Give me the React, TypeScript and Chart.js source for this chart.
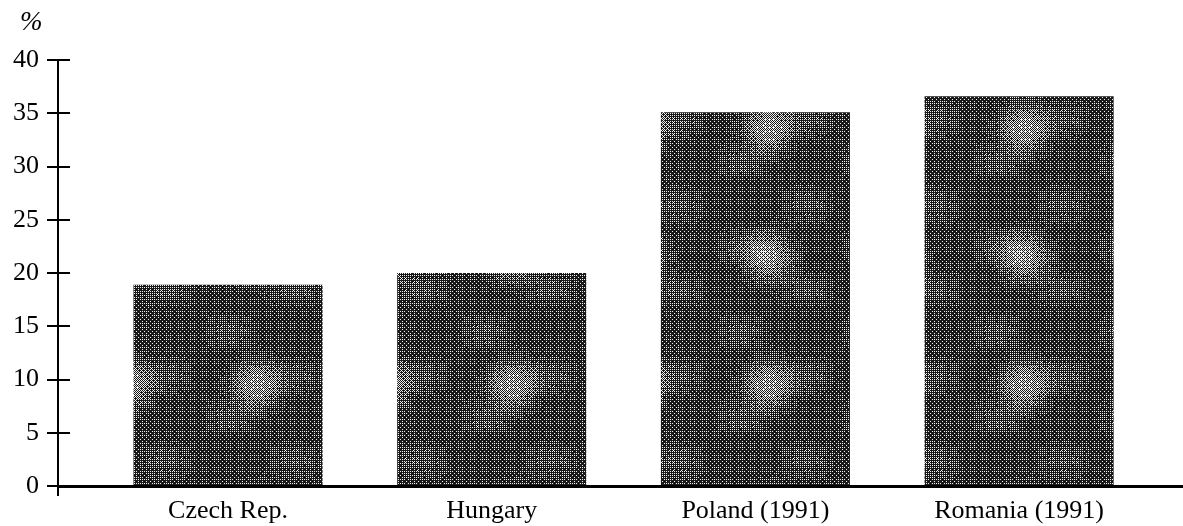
import React, { useEffect, useRef } from "react";
import { Chart, registerables } from "chart.js";

Chart.register(...registerables);

// ---- data ----
const categories = ["Czech Rep.", "Hungary", "Poland (1991)", "Romania (1991)"];
const values = [18.9, 20.0, 35.1, 36.6];
const yTickValues = [0, 5, 10, 15, 20, 25, 30, 35, 40];
const unitLabel = "%";

const FONT = "'Liberation Serif', 'Times New Roman', serif";

function makePattern(ctx: CanvasRenderingContext2D): CanvasPattern | string {
  const size = 256;
  const pc = document.createElement("canvas");
  pc.width = size;
  pc.height = size;
  const pctx = pc.getContext("2d");
  if (!pctx) return "#555";
  const img = pctx.createImageData(size, size);
  const bayer = [
    [0, 8, 2, 10],
    [12, 4, 14, 6],
    [3, 11, 1, 9],
    [15, 7, 13, 5],
  ];
  const TWO_PI = Math.PI * 2;
  for (let y = 0; y < size; y++) {
    for (let x = 0; x < size; x++) {
      const a = Math.cos((TWO_PI * (x + y)) / size) * Math.cos((TWO_PI * (x - y)) / size);
      const b = Math.cos((TWO_PI * 2 * x) / size + 1.3) * Math.cos((TWO_PI * 3 * y) / size + 0.7);
      const light = Math.pow(Math.max(0, a), 3) * 0.45 + Math.max(0, b) * 0.12;
      const grid = x % 3 === 0 || y % 3 === 0 ? 0.08 : 0;
      const dark = 0.8 - light + grid;
      const th = (bayer[y % 4][x % 4] + 0.5) / 16;
      const on = dark > th;
      const i = (y * size + x) * 4;
      const c = on ? 25 : 240;
      img.data[i] = c;
      img.data[i + 1] = c;
      img.data[i + 2] = c;
      img.data[i + 3] = 255;
    }
  }
  pctx.putImageData(img, 0, 0);
  return ctx.createPattern(pc, "repeat") || "#555";
}

const extrasPlugin = {
  id: "extras",
  afterDraw(chart: any) {
    const { ctx, chartArea, scales } = chart;
    const y = scales.y;
    ctx.save();
    ctx.strokeStyle = "#000";
    ctx.lineWidth = 2;
    // right-hand half of the crossing tick marks
    yTickValues.forEach((v) => {
      const py = Math.round(y.getPixelForValue(v));
      ctx.beginPath();
      ctx.moveTo(chartArea.left, py);
      ctx.lineTo(chartArea.left + 12, py);
      ctx.stroke();
    });
    // axis stub below zero
    ctx.beginPath();
    ctx.moveTo(chartArea.left, chartArea.bottom);
    ctx.lineTo(chartArea.left, chartArea.bottom + 10);
    ctx.stroke();
    // unit label
    ctx.fillStyle = "#000";
    ctx.font = `italic 27px ${FONT}`;
    ctx.textAlign = "left";
    ctx.textBaseline = "middle";
    ctx.fillText(unitLabel, 20, 23);
    ctx.restore();
  },
};

export default function App() {
  const ref = useRef<HTMLCanvasElement | null>(null);

  useEffect(() => {
    const canvas = ref.current;
    if (!canvas) return;
    const ctx = canvas.getContext("2d");
    if (!ctx) return;
    const pattern = makePattern(ctx);

    const chart = new Chart(canvas, {
      type: "bar",
      data: {
        datasets: [
          {
            data: values.map((v, i) => ({ x: i, y: v })),
            backgroundColor: pattern as any,
            borderWidth: 0,
            barPercentage: 0.717,
            categoryPercentage: 1,
          },
        ],
      },
      options: {
        responsive: false,
        animation: false,
        layout: { padding: { top: 60, right: 0, bottom: 0, left: 0 } },
        plugins: {
          legend: { display: false },
          tooltip: { enabled: false },
          title: { display: false },
        },
        scales: {
          x: {
            type: "linear",
            min: -0.6447,
            max: 3.6215,
            offset: false,
            z: 1,
            afterBuildTicks: (scale: any) => {
              scale.ticks = categories.map((_, i) => ({ value: i }));
            },
            afterFit: (scale: any) => {
              scale.height = 40;
            },
            grid: { display: false, drawTicks: false, offset: false },
            border: { display: true, color: "#000", width: 3 },
            ticks: {
              autoSkip: false,
              maxRotation: 0,
              padding: 10,
              color: "#000",
              font: { family: FONT, size: 26 },
              callback: (value: any) => categories[Math.round(Number(value))] ?? "",
            },
          },
          y: {
            type: "linear",
            min: 0,
            max: 40,
            afterBuildTicks: (scale: any) => {
              scale.ticks = yTickValues.map((v) => ({ value: v }));
            },
            afterFit: (scale: any) => {
              scale.width = 58;
            },
            grid: {
              display: true,
              drawOnChartArea: false,
              drawTicks: true,
              tickLength: 11,
              color: "#000",
              lineWidth: 2,
            },
            border: { display: true, color: "#000", width: 2 },
            ticks: {
              padding: 8,
              color: "#000",
              font: { family: FONT, size: 26 },
            },
          },
        },
      },
      plugins: [extrasPlugin],
    });
    return () => chart.destroy();
  }, []);

  return (
    <div style={{ position: "absolute", left: 0, top: 0, width: 1183, height: 526, background: "#fff" }}>
      <canvas ref={ref} width={1183} height={526} style={{ display: "block" }} />
    </div>
  );
}
